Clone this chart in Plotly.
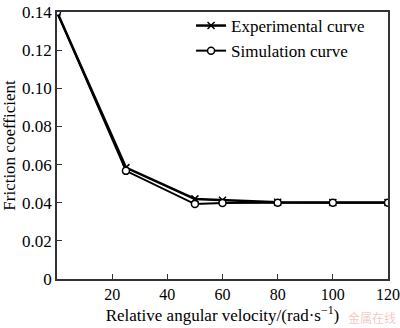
import plotly.graph_objects as go

velocity = [0, 25, 50, 60, 80, 100, 120]
experimental = [0.140, 0.0584, 0.0420, 0.0413, 0.0402, 0.0401, 0.0401]
simulation = [0.140, 0.0567, 0.0393, 0.0398, 0.0400, 0.0400, 0.0400]

x_ticks = [20, 40, 60, 80, 100, 120]
y_ticks = [0, 0.02, 0.04, 0.06, 0.08, 0.10, 0.12, 0.14]
y_ticktext = ["0", "0.02", "0.04", "0.06", "0.08", "0.10", "0.12", "0.14"]

font_family = "Liberation Serif"

fig = go.Figure()
fig.add_trace(go.Scatter(
    x=velocity, y=experimental, mode="lines+markers", name="Experimental curve",
    line=dict(color="black", width=2.5),
    marker=dict(symbol="x-thin", size=7, line=dict(color="black", width=1.5)),
))
fig.add_trace(go.Scatter(
    x=velocity, y=simulation, mode="lines+markers", name="Simulation curve",
    line=dict(color="black", width=2),
    marker=dict(symbol="circle", size=7, color="white", line=dict(color="black", width=1.5)),
))

axis_common = dict(
    showgrid=False, zeroline=False, showline=True, linecolor="#333", linewidth=1.5,
    mirror=True, ticks="inside", ticklen=5, tickcolor="#333",
    ticklabeloverflow="allow", automargin=False,
)

fig.update_layout(
    width=400, height=328,
    margin=dict(l=57, r=12, t=8, b=49),
    paper_bgcolor="white", plot_bgcolor="white",
    font=dict(family=font_family),
    showlegend=True,
    legend=dict(
        x=0.405, y=1.015, xanchor="left", yanchor="top",
        font=dict(family=font_family, size=17, color="black"),
        bgcolor="rgba(0,0,0,0)", tracegroupgap=0,
    ),
    xaxis=dict(
        range=[0, 120], tickvals=x_ticks,
        tickfont=dict(family=font_family, size=16, color="black"),
        title=dict(text="Relative angular velocity/(rad·s<sup>−1</sup>)",
                   font=dict(family=font_family, size=17, color="black"), standoff=2),
        **axis_common,
    ),
    yaxis=dict(
        range=[0, 0.14], tickvals=y_ticks, ticktext=y_ticktext,
        tickfont=dict(family=font_family, size=17, color="black"),
        title=dict(text="Friction coefficient",
                   font=dict(family=font_family, size=17, color="black"), standoff=2),
        **axis_common,
    ),
)

fig.add_annotation(
    text="金属在线", xref="paper", yref="paper", x=1.03, y=-0.145,
    xanchor="right", yanchor="middle", showarrow=False,
    font=dict(family="Noto Sans CJK SC", size=12, color="rgba(235,150,150,0.55)"),
)

fig.write_html("out.html")
